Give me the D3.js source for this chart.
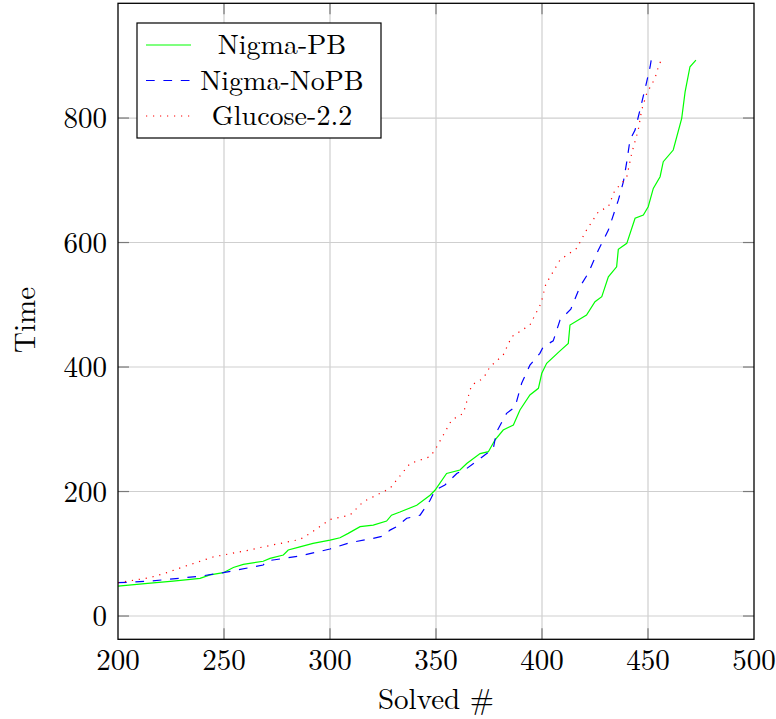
<!DOCTYPE html>
<html>
<head>
<meta charset="utf-8">
<script src="https://cdn.jsdelivr.net/npm/d3@7"></script>
<style>
  body { margin: 0; background: #fff; }
  svg text { font-family: "Latin Modern Roman", "CMU Serif", "Liberation Serif", serif; fill: #000; }
</style>
</head>
<body>
<svg id="chart" width="776" height="719"></svg>
<script>
"use strict";

// values
const xTicks = [200, 250, 300, 350, 400, 450, 500];
const yTicks = [0, 200, 400, 600, 800];

const pbSolved = [200, 214, 226, 238.7, 243.4, 249.7, 254.4, 259.1, 268.5, 271.7, 278, 280.3, 285.8, 292, 300, 304.7, 308.6, 314.2, 320.4, 326.7, 329, 333, 340.9, 347.2, 349.5, 355, 361.3, 364.5, 370.8, 374.7, 377.8, 381.7, 386.5, 389.6, 394.3, 398.3, 399.9, 402.2, 408.5, 412.4, 413.2, 421, 425, 428.2, 431.3, 435.2, 436, 440, 443.9, 447.8, 450.1, 452.5, 455.7, 457.2, 461.9, 465.9, 467.5, 469.8, 472.6];
const pbTime   = [48, 52.5, 56, 60.5, 66, 69.6, 78, 83, 88, 92.6, 98, 106, 111, 116.7, 122, 125.8, 132.8, 143.5, 146, 152.6, 162, 167, 178, 194, 202, 229, 234.5, 245, 261, 264, 282.7, 298.8, 306.8, 331, 355, 365.8, 390, 406, 426, 438, 467.5, 483.5, 505, 513, 545, 561, 589, 598.7, 638.9, 644, 657.5, 687, 705.7, 729.8, 748.6, 799.5, 842, 882.4, 893];

const noPbSolved = [200, 215, 238.7, 249.7, 268.5, 270, 285.8, 300, 309.4, 320.4, 325.2, 328.3, 331.4, 336.2, 342.5, 347.2, 349.5, 354.2, 359.8, 364.5, 370.8, 377, 378.6, 383.3, 387.3, 390.4, 394.3, 399, 400.6, 405.3, 408.5, 413.6, 417.9, 421.8, 426.6, 431.3, 436, 438.4, 440, 441.5, 443.9, 446.2, 449.4, 451, 451.7];
const noPbTime   = [53.5, 56, 64, 69.6, 82, 88.4, 96.4, 107.6, 117.8, 124.8, 128.5, 138, 143.5, 157, 162, 186, 202, 210.4, 229, 237, 253, 269, 296, 325.6, 336, 373.8, 403, 422, 432.6, 442, 475.5, 493, 529, 550.5, 588, 620, 668, 697.7, 729.8, 764.7, 780.7, 812.8, 858.3, 882.4, 897];

const glucoseSolved = [200, 215, 223, 230.8, 245, 262, 267, 285.8, 290.6, 300, 309.4, 315.7, 323.6, 328.3, 337.7, 347.2, 349.5, 357.4, 362.9, 366.8, 372.3, 375.5, 381.7, 385.7, 394.3, 399.5, 401.8, 408.5, 416.4, 421, 426.6, 431.3, 434.4, 437.6, 440, 442.3, 445.4, 447, 449.4, 453.3, 454.9, 456.7];
const glucoseTime   = [53.5, 61.6, 69.6, 79, 95, 106, 110, 123, 132.8, 155, 162, 183.6, 197, 205, 245, 256, 266.7, 314.9, 325.6, 371, 381.8, 400.5, 419.3, 448.7, 467.5, 502, 533, 572, 590.7, 620, 649.5, 657.5, 684.3, 695, 705.7, 743, 780.7, 812.8, 839.6, 863.7, 882.4, 897];

const seriesNames = ["Nigma-PB", "Nigma-NoPB", "Glucose-2.2"];

let svg = d3.select("#chart");

let plot = { left: 118, right: 754, top: 3.3, bottom: 639.3 };

let xScale = d3.scaleLinear().domain([200, 500]).range([plot.left, plot.right]);
let yScale = d3.scaleLinear().domain([-37.4, 984.3]).range([plot.bottom, plot.top]);

let series = [
  { name: seriesNames[0], xs: pbSolved, ys: pbTime, color: "#00ff00", dash: null },
  { name: seriesNames[1], xs: noPbSolved, ys: noPbTime, color: "#0000ff", dash: "8.7,8.7" },
  { name: seriesNames[2], xs: glucoseSolved, ys: glucoseTime, color: "#ff0000", dash: "1.2,5.8" }
];

// grid
let grid = svg.append("g").attr("class", "grid");
grid.selectAll(".gx").data(xTicks.slice(1, -1)).enter().append("line")
  .attr("x1", d => xScale(d)).attr("x2", d => xScale(d))
  .attr("y1", plot.top).attr("y2", plot.bottom)
  .style("stroke", "#cfcfcf").style("stroke-width", 1.2);
grid.selectAll(".gy").data(yTicks).enter().append("line")
  .attr("x1", plot.left).attr("x2", plot.right)
  .attr("y1", d => yScale(d)).attr("y2", d => yScale(d))
  .style("stroke", "#cfcfcf").style("stroke-width", 1.2);

// inner tick marks on all four sides
let tickLen = 11;
let ticks = svg.append("g").style("stroke", "#7a7a7a").style("stroke-width", 1.2);
xTicks.slice(1, -1).forEach(v => {
  ticks.append("line").attr("x1", xScale(v)).attr("x2", xScale(v)).attr("y1", plot.bottom).attr("y2", plot.bottom - tickLen);
  ticks.append("line").attr("x1", xScale(v)).attr("x2", xScale(v)).attr("y1", plot.top).attr("y2", plot.top + tickLen);
});
yTicks.forEach(v => {
  ticks.append("line").attr("x1", plot.left).attr("x2", plot.left + tickLen).attr("y1", yScale(v)).attr("y2", yScale(v));
  ticks.append("line").attr("x1", plot.right).attr("x2", plot.right - tickLen).attr("y1", yScale(v)).attr("y2", yScale(v));
});

// curves
let line = d3.line().x(d => xScale(d[0])).y(d => yScale(d[1]));
series.forEach(s => {
  let pts = s.xs.map((x, i) => [x, s.ys[i]]);
  svg.append("path").datum(pts)
    .attr("d", line)
    .style("fill", "none")
    .style("stroke", s.color)
    .style("stroke-width", 1.2)
    .style("stroke-dasharray", s.dash);
});

// frame
svg.append("rect")
  .attr("x", plot.left).attr("y", plot.top)
  .attr("width", plot.right - plot.left).attr("height", plot.bottom - plot.top)
  .style("fill", "none").style("stroke", "#000").style("stroke-width", 1.3);

// tick labels
svg.append("g").selectAll("text").data(xTicks).enter().append("text")
  .attr("x", d => xScale(d)).attr("y", 670)
  .attr("text-anchor", "middle").style("font-size", "29px")
  .text(d => d);
svg.append("g").selectAll("text").data(yTicks).enter().append("text")
  .attr("x", 107).attr("y", d => yScale(d) + 10)
  .attr("text-anchor", "end").style("font-size", "29px")
  .text(d => d);

// axis titles
svg.append("text").attr("x", 436).attr("y", 709)
  .attr("text-anchor", "middle").style("font-size", "29px").text("Solved #");
svg.append("text")
  .attr("transform", "translate(35,320) rotate(-90)")
  .attr("text-anchor", "middle").style("font-size", "29px").text("Time");

// legend
let legend = svg.append("g");
legend.append("rect").attr("x", 137).attr("y", 23).attr("width", 244).attr("height", 115)
  .style("fill", "#fff").style("stroke", "#000").style("stroke-width", 1.2);
let rowY = [45, 80.5, 116];
series.forEach((s, i) => {
  legend.append("line").attr("x1", 146).attr("x2", 191).attr("y1", rowY[i]).attr("y2", rowY[i])
    .style("stroke", s.color).style("stroke-width", 1.2).style("stroke-dasharray", s.dash);
  legend.append("text").attr("x", 282).attr("y", rowY[i] + 9)
    .attr("text-anchor", "middle").style("font-size", "28px").text(s.name);
});
</script>
</body>
</html>
